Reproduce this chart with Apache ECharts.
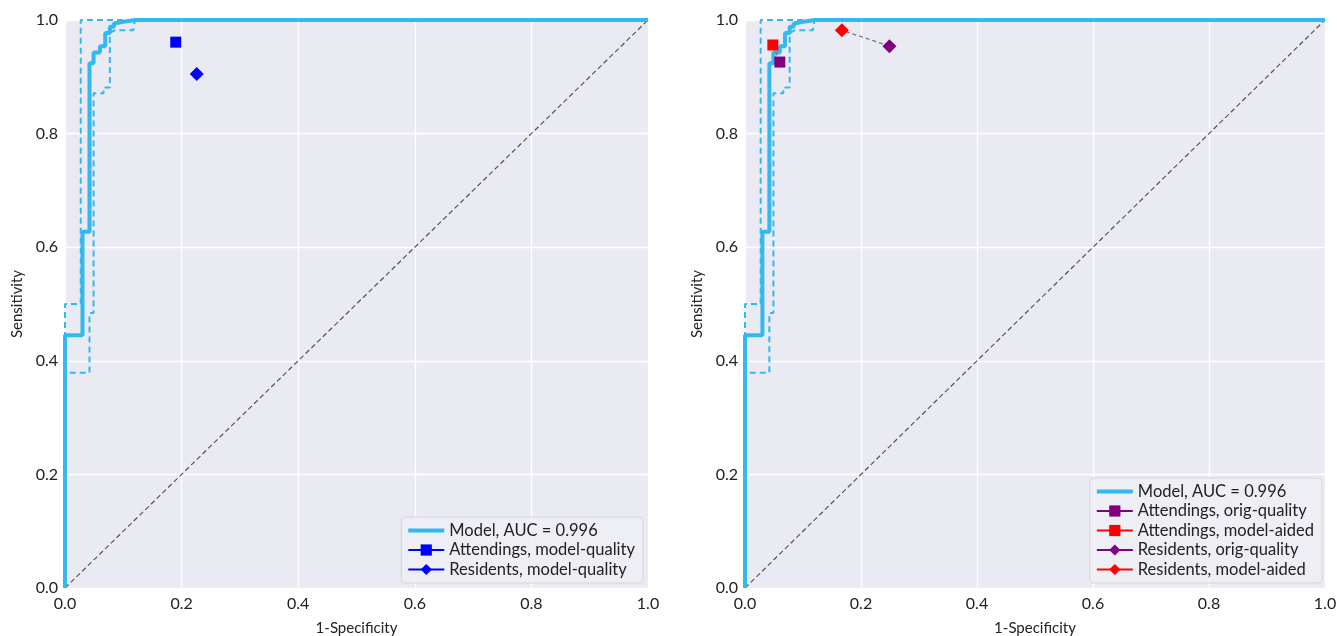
<!DOCTYPE html>
<html>
<head>
<meta charset="utf-8">
<script src="https://cdn.jsdelivr.net/npm/echarts@6/dist/echarts.min.js"></script>
<style>
html,body{margin:0;padding:0;background:#fff;}
#c{width:1337px;height:636px;}
</style>
</head>
<body>
<div id="c"></div>
<script>
// ---- data ----
const rocFpr   = [0, 0, 0.030, 0.030, 0.042, 0.042, 0.049, 0.049, 0.060, 0.060, 0.069, 0.069, 0.077, 0.077, 0.084, 0.084, 0.100, 0.120, 1.0];
const rocTpr   = [0, 0.445, 0.445, 0.627, 0.627, 0.924, 0.924, 0.943, 0.943, 0.954, 0.954, 0.977, 0.977, 0.988, 0.988, 0.994, 0.997, 1.0, 1.0];
const upperFpr = [0, 0, 0.027, 0.027, 1.0];
const upperTpr = [0, 0.500, 0.500, 1.0, 1.0];
const lowerFpr = [0, 0, 0.042, 0.042, 0.049, 0.049, 0.066, 0.066, 0.077, 0.077, 0.086, 0.117, 0.120, 1.0];
const lowerTpr = [0, 0.379, 0.379, 0.484, 0.484, 0.871, 0.871, 0.881, 0.881, 0.977, 0.982, 0.982, 1.0, 1.0];
const modelName = 'Model, AUC = 0.996';

// left panel readers (model-quality images)
const leftReaders = [
  {name: 'Attendings, model-quality', fpr: 0.190, tpr: 0.961, symbol: 'rect', color: '#0000FF'},
  {name: 'Residents, model-quality',  fpr: 0.226, tpr: 0.905, symbol: 'diamond', color: '#0000FF'}
];
// right panel readers
const rightReaders = [
  {name: 'Attendings, orig-quality', fpr: 0.060, tpr: 0.926, symbol: 'rect', color: '#800080'},
  {name: 'Attendings, model-aided',  fpr: 0.048, tpr: 0.956, symbol: 'rect', color: '#FF0000'},
  {name: 'Residents, orig-quality',  fpr: 0.249, tpr: 0.954, symbol: 'diamond', color: '#800080'},
  {name: 'Residents, model-aided',   fpr: 0.167, tpr: 0.982, symbol: 'diamond', color: '#FF0000'}
];
const ticks = [0, 0.2, 0.4, 0.6, 0.8, 1.0];

// ---- chart ----
const FONT = 'Lato';
const BLUE = '#33B9F2';
const zip = (a, b) => a.map((v, i) => [v, b[i]]);

function axis(idx, isX) {
  return {
    type: 'value', gridIndex: idx, min: 0, max: 1, interval: 0.2,
    name: isX ? '1-Specificity' : 'Sensitivity',
    nameLocation: 'middle', nameGap: isX ? 33 : 40,
    nameTextStyle: {fontFamily: FONT, fontSize: 15, color: '#222'},
    axisLine: {show: false}, axisTick: {show: false},
    axisLabel: {fontFamily: FONT, fontSize: 16, color: '#222', margin: isX ? 8 : 7,
      formatter: v => v.toFixed(1)},
    splitLine: {show: true, lineStyle: {color: '#ffffff', width: 1.3}}
  };
}

const series = [];
[0, 1].forEach(g => {
  series.push({type: 'line', xAxisIndex: g, yAxisIndex: g, data: [[0, 0], [1, 1]],
    symbol: 'none', silent: true, clip: false, z: 1,
    lineStyle: {color: '#555', width: 1.2, type: [5, 3]}});
  series.push({type: 'line', xAxisIndex: g, yAxisIndex: g, name: 'ci_up' + g, data: zip(upperFpr, upperTpr),
    symbol: 'none', clip: false, z: 2, lineStyle: {color: BLUE, width: 2, type: [6, 4]}});
  series.push({type: 'line', xAxisIndex: g, yAxisIndex: g, name: 'ci_lo' + g, data: zip(lowerFpr, lowerTpr),
    symbol: 'none', clip: false, z: 2, lineStyle: {color: BLUE, width: 2, type: [6, 4]}});
  series.push({type: 'line', xAxisIndex: g, yAxisIndex: g, name: modelName, data: zip(rocFpr, rocTpr),
    symbol: 'none', clip: false, z: 3, color: BLUE, lineStyle: {color: BLUE, width: 4}});
});

function readerSeries(r, g) {
  return {type: 'line', xAxisIndex: g, yAxisIndex: g, name: r.name, data: [[r.fpr, r.tpr]],
    symbol: r.symbol, symbolSize: r.symbol === 'rect' ? 11 : 14, showSymbol: true, clip: false, z: 6,
    color: r.color, itemStyle: {color: r.color}, lineStyle: {color: r.color, width: 2.5}};
}
leftReaders.forEach(r => series.push(readerSeries(r, 0)));
// connectors orig -> aided
series.push({type: 'line', xAxisIndex: 1, yAxisIndex: 1, data: [[rightReaders[0].fpr, rightReaders[0].tpr], [rightReaders[1].fpr, rightReaders[1].tpr]],
  symbol: 'none', z: 5, silent: true, lineStyle: {color: '#777', width: 1.3, type: [4, 3]}});
series.push({type: 'line', xAxisIndex: 1, yAxisIndex: 1, data: [[rightReaders[2].fpr, rightReaders[2].tpr], [rightReaders[3].fpr, rightReaders[3].tpr]],
  symbol: 'none', z: 5, silent: true, lineStyle: {color: '#777', width: 1.3, type: [4, 3]}});
rightReaders.forEach(r => series.push(readerSeries(r, 1)));

function legend(names, right) {
  return {
    data: [{name: modelName, icon: 'path://M0,0 L36,0 L36,4 L0,4 Z', itemStyle: {color: BLUE}}]
      .concat(names.map(n => ({name: n}))),
    orient: 'vertical', right: right, bottom: 53,
    itemWidth: 36, itemHeight: 14, itemGap: 2.5,
    symbolKeepAspect: true,
    padding: [5, 8, 5, 6],
    backgroundColor: 'rgba(238,238,245,0.9)', borderColor: '#d4d4dc', borderWidth: 1, borderRadius: 4,
    textStyle: {fontFamily: FONT, fontSize: 16.5, color: '#222'},
    selectedMode: false
  };
}

const gridBase = {top: 20, height: 568, show: true, backgroundColor: '#EAEAF2', borderWidth: 0,
  containLabel: false, outerBoundsMode: 'none'};
const option = {
  backgroundColor: '#ffffff',
  animation: false,
  grid: [
    Object.assign({left: 65, width: 583}, gridBase),
    Object.assign({left: 745, width: 580}, gridBase)
  ],
  xAxis: [axis(0, true), axis(1, true)],
  yAxis: [axis(0, false), axis(1, false)],
  legend: [
    legend(leftReaders.map(r => r.name), 694),
    legend(rightReaders.map(r => r.name), 15)
  ],
  series: series
};
echarts.init(document.getElementById('c'), null, {renderer: 'canvas'}).setOption(option);
</script>
</body>
</html>
